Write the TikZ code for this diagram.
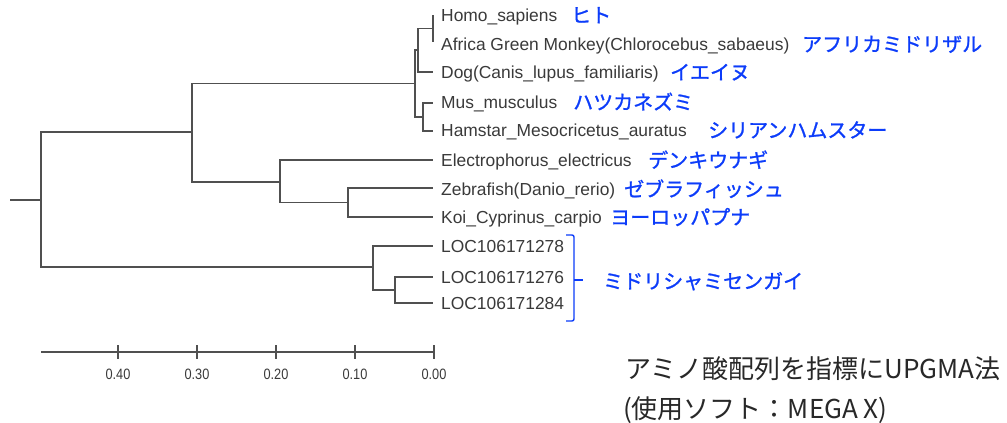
\documentclass[tikz,border=0pt]{standalone}
\usepackage{fontspec}
\setmainfont{Liberation Sans}
\newfontfamily\jp{Noto Sans CJK JP}
\newfontfamily\jpb[FakeBold=1.2]{Noto Sans CJK JP}
\newfontfamily\axisfont[FakeStretch=0.85]{Liberation Sans}
\definecolor{treegray}{RGB}{80,80,80}
\definecolor{txtgray}{RGB}{58,58,58}
\definecolor{jpblue}{RGB}{12,60,250}
\definecolor{notegray}{RGB}{40,40,40}
\begin{document}
\begin{tikzpicture}[x=1pt,y=-1pt,
  branch/.style={draw=treegray,line width=1.5pt},
  leaf/.style={anchor=base west,inner sep=0pt,text=txtgray,font=\fontsize{17.4}{19}\selectfont},
  jplabel/.style={anchor=base west,inner sep=0pt,text=jpblue,font=\jpb\fontsize{20}{22}\selectfont},
  ticklabel/.style={anchor=base,inner sep=0pt,text=txtgray,font=\axisfont\fontsize{15}{16}\selectfont},
  note/.style={anchor=base west,inner sep=0pt,text=notegray,font=\jp\fontsize{26}{28}\selectfont},
  axisline/.style={draw=treegray,line width=1.8pt}]
\fill[white] (0,0) rectangle (1007,423);
\useasboundingbox (0,0) rectangle (1007,423);
% internal nodes
\coordinate (stub) at (10,200);
\coordinate (root) at (41,200);
\coordinate (n1) at (192,132);
\coordinate (n3) at (373,267);
\coordinate (n2) at (415,83.5);
\coordinate (n4) at (280,182);
\coordinate (n5) at (418,50);
\coordinate (n6) at (433,28.5);
\coordinate (n7) at (423,117);
\coordinate (n8) at (348,202.5);
\coordinate (n9) at (395,290);
% leaf ends
\coordinate (l1) at (433,15);
\coordinate (l2) at (433,42);
\coordinate (l3) at (433,72);
\coordinate (l4) at (433,103);
\coordinate (l5) at (433,131);
\coordinate (l6) at (433,160);
\coordinate (l7) at (433,188);
\coordinate (l8) at (433,217);
\coordinate (l9) at (433,246);
\coordinate (l10) at (433,277);
\coordinate (l11) at (433,303);
% leaf labels
\node[leaf] (t1) at (441,21.2) {Homo\_sapiens};
\node[leaf] (t2) at (441,50.2) {Africa Green Monkey(Chlorocebus\_sabaeus)};
\node[leaf] (t3) at (441,78.2) {Dog(Canis\_lupus\_familiaris)};
\node[leaf] (t4) at (441,108.2) {Mus\_musculus};
\node[leaf] (t5) at (441,136.2) {Hamstar\_Mesocricetus\_auratus};
\node[leaf] (t6) at (441,166.2) {Electrophorus\_electricus};
\node[leaf] (t7) at (441,195.2) {Zebrafish(Danio\_rerio)};
\node[leaf] (t8) at (441,223.2) {Koi\_Cyprinus\_carpio};
\node[leaf] (t9) at (441,252.2) {LOC106171278};
\node[leaf] (t10) at (441,283.2) {LOC106171276};
\node[leaf] (t11) at (441,309.2) {LOC106171284};
% Japanese names
\node[jplabel] (j1) at (571,22.6) {ヒト};
\node[jplabel] (j2) at (802,51.6) {アフリカミドリザル};
\node[jplabel] (j3) at (670,79.6) {イエイヌ};
\node[jplabel] (j4) at (573,109.6) {ハツカネズミ};
\node[jplabel] (j5) at (708,137.6) {シリアンハムスター};
\node[jplabel] (j6) at (648,167.6) {デンキウナギ};
\node[jplabel] (j7) at (624,196.6) {ゼブラフィッシュ};
\node[jplabel] (j8) at (610,224.6) {ヨーロッパプナ};
\node[jplabel] (j9) at (603,288.6) {ミドリシャミセンガイ};
% bracket
\coordinate (bt) at (574,235);
\coordinate (bb) at (574,321);
\coordinate (bm) at (574,280);
\draw[draw=jpblue,line width=1.4pt,rounded corners=2pt] ([xshift=-8pt]bt) -- (bt) -- (bb) -- ([xshift=-8pt]bb);
\draw[draw=jpblue,line width=1.4pt] (bm) -- ([xshift=9pt]bm);
% branches
\draw[branch] (stub) -- (root);
\draw[branch] (root) |- (n1);
\draw[branch] (root) |- (n3);
\draw[branch] (n1) |- (n2);
\draw[branch] (n1) |- (n4);
\draw[branch] (n2) |- (n5);
\draw[branch] (n2) |- (n7);
\draw[branch] (n5) |- (n6);
\draw[branch] (n5) |- (l3);
\draw[branch] (n6) |- (l1);
\draw[branch] (n6) |- (l2);
\draw[branch] (n7) |- (l4);
\draw[branch] (n7) |- (l5);
\draw[branch] (n4) |- (l6);
\draw[branch] (n4) |- (n8);
\draw[branch] (n8) |- (l7);
\draw[branch] (n8) |- (l8);
\draw[branch] (n3) |- (l9);
\draw[branch] (n3) |- (n9);
\draw[branch] (n9) |- (l10);
\draw[branch] (n9) |- (l11);
% scale axis
\coordinate (a0) at (41,352);
\coordinate (a1) at (434,352);
\draw[axisline] (a0) -- (a1);
\foreach \x/\lab in {118/0.40,197/0.30,276/0.20,355/0.10,434/0.00}{
  \draw[axisline,line width=1.5pt] (\x,345) -- (\x,359);
  \node[ticklabel] at (\x,379.4) {\lab};
}
% note
\node[note] (nt1) at (625,378) {アミノ酸配列を指標にUPGMA法};
\node[note] (nt2) at (623,418) {(使用ソフト：MEGA X)};
\end{tikzpicture}
\end{document}
